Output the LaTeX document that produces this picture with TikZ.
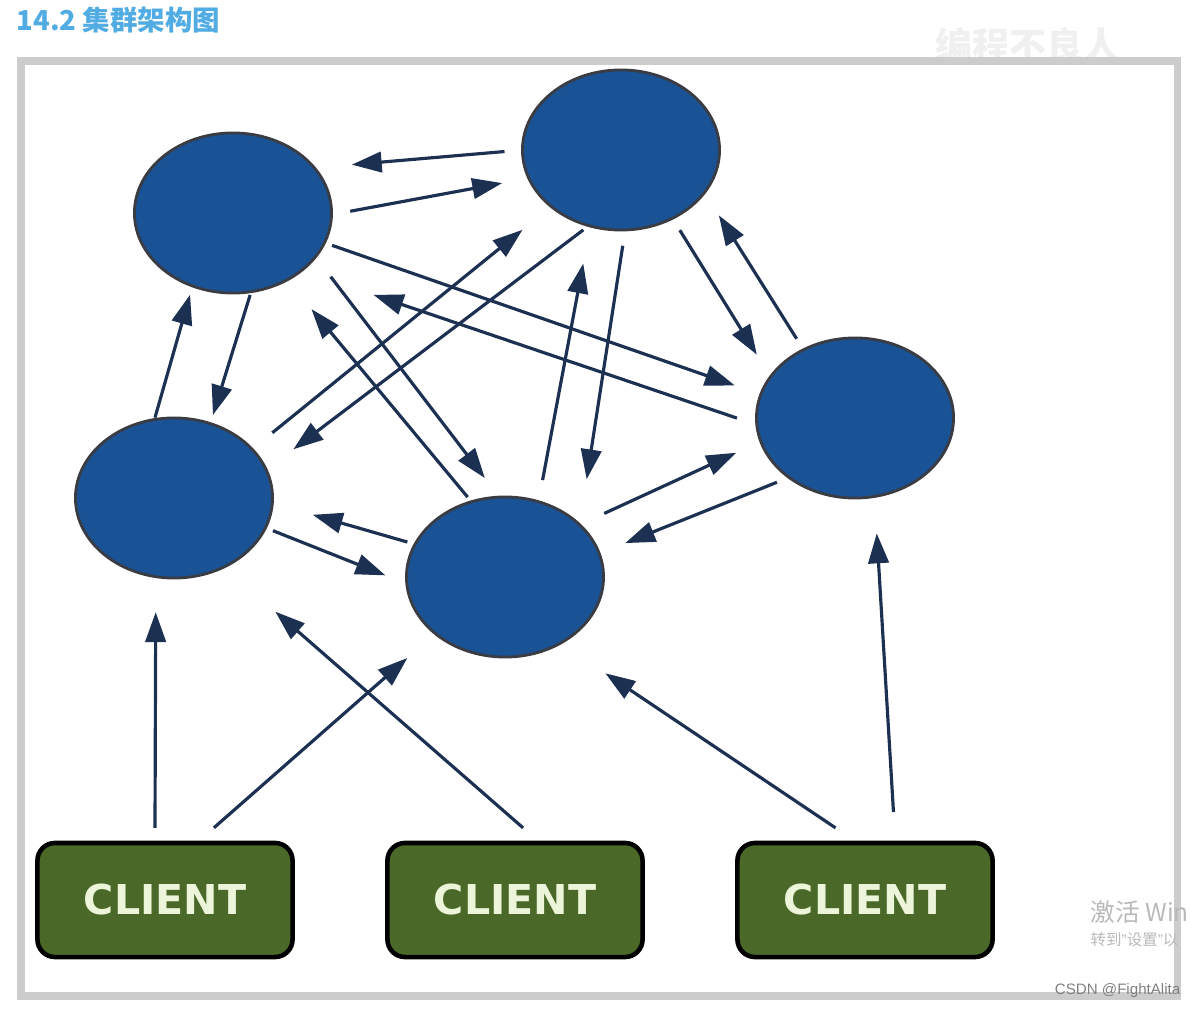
\documentclass[tikz,border=0pt]{standalone}
\usepackage{fontspec}
\usepackage{xcolor}
\usepackage{tikz}
\usetikzlibrary{shapes.geometric, arrows.meta, positioning}
\newfontfamily\cjk{Noto Sans CJK SC}
\newfontfamily\clientfont{DejaVu Sans}
\newfontfamily\markfont{Liberation Sans}
\definecolor{nodeblue}{RGB}{26,82,150}
\definecolor{nodeedge}{RGB}{58,60,68}
\definecolor{linknavy}{RGB}{28,48,82}
\definecolor{clientgreen}{RGB}{74,105,40}
\definecolor{clienttext}{RGB}{236,244,218}
\definecolor{titleblue}{RGB}{82,172,228}
\definecolor{framegray}{RGB}{204,204,204}
\definecolor{markgray}{RGB}{185,185,185}
\definecolor{faintgray}{RGB}{240,240,240}

\begin{document}
\begin{tikzpicture}[x=0.01cm, y=-0.01cm, >={Triangle[length=8.5pt,width=5.8pt]}]
  \tikzstyle{srvnode} = [ellipse, draw=nodeedge, line width=0.8pt, fill=nodeblue, minimum width=1.97cm, minimum height=1.6cm, inner sep=0pt, outer sep=0pt]
  \tikzstyle{clientbox} = [rectangle, draw=black, line width=1.3pt, fill=clientgreen, rounded corners=5pt, minimum width=2.55cm, minimum height=1.14cm, outer sep=0pt, text=clienttext, font=\clientfont\bfseries\fontsize{11.7}{14}\selectfont]
  \tikzstyle{clusterlink} = [->, draw=linknavy, line width=0.9pt]

  \useasboundingbox (0,0) rectangle (1197,1010);

  \node [anchor=west, inner sep=0pt, text=titleblue, font=\cjk\bfseries\fontsize{7.8}{10}\selectfont] (title) at (16,20) {14.2 集群架构图};
  \node [anchor=west, inner sep=0pt, text=faintgray, font=\cjk\bfseries\fontsize{10.5}{12}\selectfont] (brand) at (935,45) {编程不良人};
  \draw [framegray, line width=2pt] (21,61) rectangle (1177,996);

  \node [srvnode] (ntl) at (233,213) {};
  \node [srvnode] (ntop) at (621,150) {};
  \node [srvnode] (nright) at (855,418) {};
  \node [srvnode] (nleft) at (174,498) {};
  \node [srvnode] (nmid) at (505,577) {};

  \node [clientbox] (cl1) at (165,900) {CLIENT};
  \node [clientbox] (cl2) at (515,900) {CLIENT};
  \node [clientbox] (cl3) at (865,900) {CLIENT};

  \draw [clusterlink, shorten <=0.18cm, shorten >=0.375cm] (ntop.180) -- (ntl.29);
  \draw [clusterlink, shorten <=0.19cm, shorten >=0.27cm] (ntl.-1.5) -- (ntop.-163);
  \draw [clusterlink, shorten <=0.02cm, shorten >=0.09cm] (nleft.104) -- (ntl.-119);
  \draw [clusterlink, shorten <=0.035cm, shorten >=0.09cm] (ntl.-77) -- (nleft.64);
  \draw [clusterlink, shorten <=0.08cm, shorten >=0.275cm] (ntl.-18) -- (nright.166);
  \draw [clusterlink, shorten <=0.21cm, shorten >=0.76cm] (nright.-176) -- (ntl.-40);
  \draw [clusterlink, shorten <=0.25cm, shorten >=0.24cm] (ntl.-28.5) -- (nmid.94);
  \draw [clusterlink, shorten <=0.06cm, shorten >=0.38cm] (nmid.114) -- (ntl.-51);
  \draw [clusterlink, shorten <=0.26cm, shorten >=0.37cm] (nleft.32) -- (ntop.-141);
  \draw [clusterlink, shorten <=0.07cm, shorten >=0.34cm] (ntop.-113) -- (nleft.17);
  \draw [clusterlink, shorten <=0.22cm, shorten >=0.38cm] (nmid.66) -- (ntop.-112);
  \draw [clusterlink, shorten <=0.16cm, shorten >=0.46cm] (ntop.-87.5) -- (nmid.35.5);
  \draw [clusterlink, shorten <=0.14cm, shorten >=0.26cm] (ntop.-53) -- (nright.154);
  \draw [clusterlink, shorten <=0.13cm, shorten >=0.27cm] (nright.127) -- (ntop.-27);
  \draw [clusterlink, shorten <=0.27cm, shorten >=0.27cm] (nmid.35.6) -- (nright.-166.5);
  \draw [clusterlink, shorten <=0.13cm, shorten >=0.28cm] (nright.-138) -- (nmid.14);
  \draw [clusterlink, shorten <=0.08cm, shorten >=0.42cm] (nmid.160.6) -- (nleft.-3.7);
  \draw [clusterlink, shorten <=0.08cm, shorten >=0.23cm] (nleft.-18) -- (nmid.-176);

  \draw [clusterlink, shorten <=0.15cm, shorten >=0.355cm] (cl1.100) -- (nleft.-103.6);
  \draw [clusterlink, shorten <=0.23cm, shorten >=0.37cm] (cl1.61.5) -- (nmid.-141.7);
  \draw [clusterlink, shorten <=0.23cm, shorten >=0.68cm] (cl2.66) -- (nleft.-54.4);
  \draw [clusterlink, shorten <=0.27cm, shorten >=0.54cm] (cl3.97.7) -- (nmid.-50);
  \draw [clusterlink, shorten <=0.31cm, shorten >=0.37cm] (cl3.62.3) -- (nright.-76.6);

  \node [anchor=west, inner sep=0pt, text=markgray, font=\cjk\fontsize{7}{9}\selectfont] (actmark) at (1090,912) {激活 Win};
  \node [anchor=west, inner sep=0pt, text=markgray, font=\cjk\fontsize{4.4}{6}\selectfont] (actnote) at (1090,940) {转到{\markfont ”}设置{\markfont ”}以};
  \node [anchor=east, inner sep=0pt, text=gray, font=\markfont\fontsize{4.3}{6}\selectfont] (csdn) at (1181,991) {CSDN @FightAlita};
\end{tikzpicture}
\end{document}
